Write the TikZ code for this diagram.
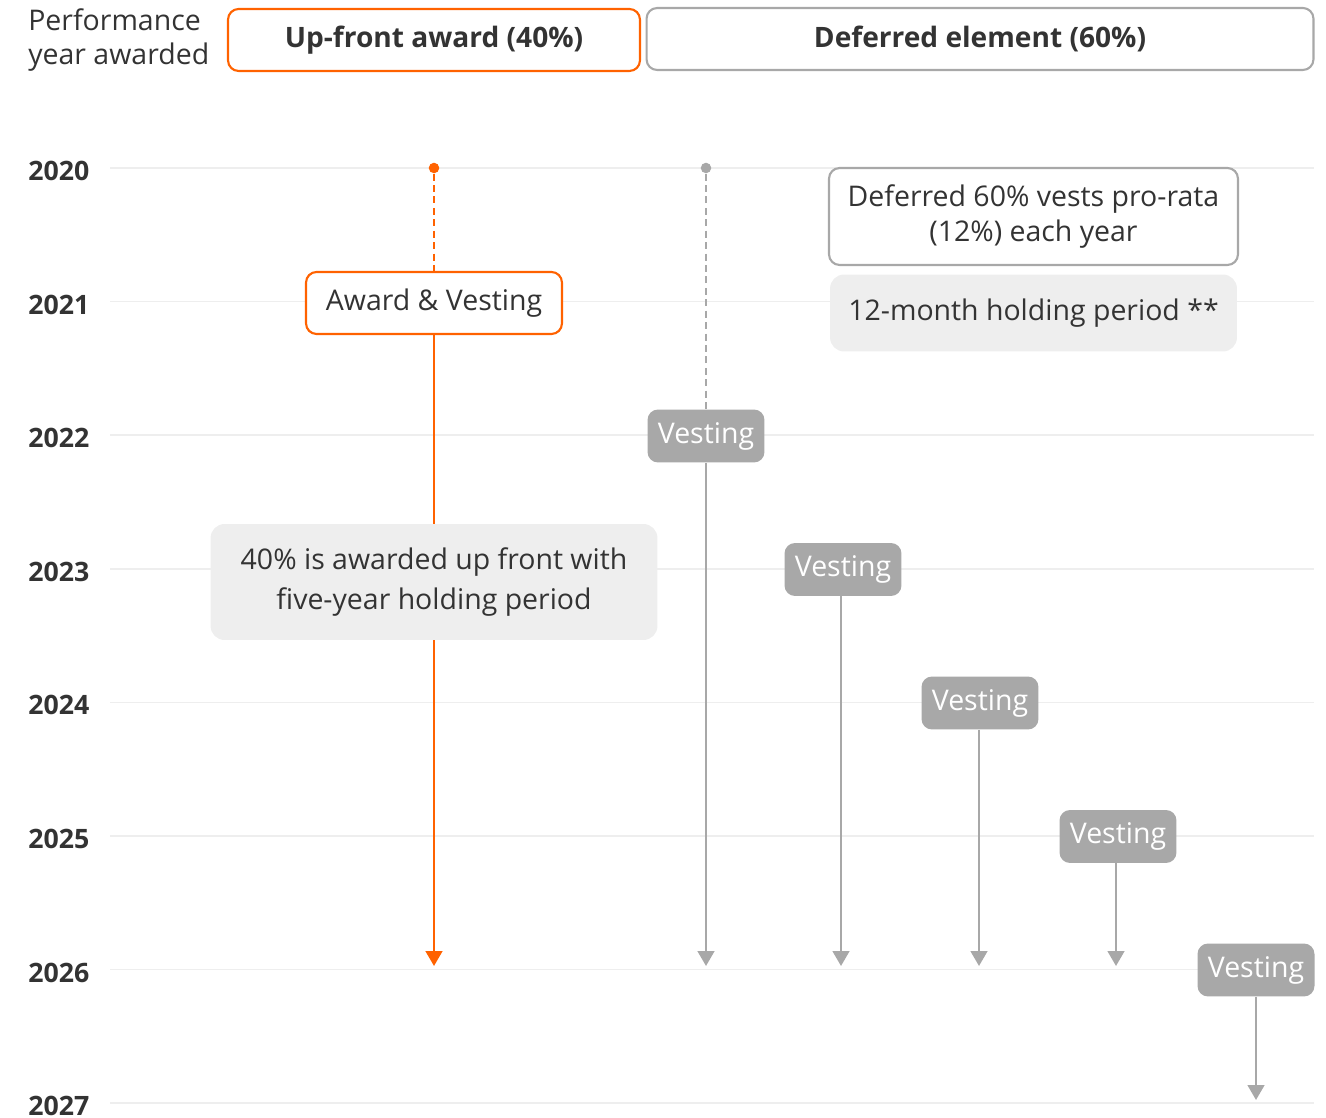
\documentclass[tikz,border=0pt]{standalone}
\usepackage{fontspec}
\setmainfont{Open Sans}
\usetikzlibrary{positioning,arrows.meta}
\definecolor{ingorange}{HTML}{FF6200}
\definecolor{ink}{HTML}{333333}
\definecolor{rule}{HTML}{EEEEEE}
\definecolor{mid}{HTML}{A8A8A8}
\definecolor{pale}{HTML}{EEEEEE}

\begin{document}
\begin{tikzpicture}[x=0.02cm,y=-0.02cm,every node/.style={font=\fontsize{16.2}{19.5}\selectfont,text=ink},
  hdr/.style={draw,line width=1.2pt,rounded corners=6pt,minimum height=1.24cm,font=\fontsize{16}{19}\selectfont\bfseries},
  yr/.style={anchor=west,inner sep=0pt,font=\fontsize{15.2}{17}\selectfont\bfseries},
  vest/.style={fill=mid,rounded corners=6pt,minimum width=2.34cm,minimum height=1.06cm,inner sep=0pt,text=white},
  note/.style={fill=pale,rounded corners=8pt,align=center,inner sep=0pt},
  dot/.style={circle,fill,inner sep=0pt,minimum size=6pt},
  lead/.style={line width=1.3pt,dash pattern=on 4pt off 2.5pt},
  a/.style={-{Triangle[width=9.5pt,length=8.5pt]},line width=1.3pt}]
  \useasboundingbox (0,0) rectangle (1326,1118);
  % year rows
  \foreach \y/\n in {2020/0,2021/1,2022/2,2023/3,2024/4,2025/5,2026/6,2027/7}{
    \draw[rule,line width=1pt] (110,168+133.6*\n) -- (1314,168+133.6*\n);
    \node[yr] (y\y) at (28,171+133.6*\n) {\y};
  }
  % headers
  \node[anchor=west,align=left,inner sep=0pt] (perf) at (28,40) {Performance\\year awarded};
  \node[hdr,draw=ingorange,minimum width=8.24cm] (up) at (434,40) {Up-front award (40\%)};
  \node[hdr,draw=mid,minimum width=13.34cm] (def) at (980,39) {Deferred element (60\%)};
  % up-front award
  \node[dot,ingorange] (d1) at (434,168) {};
  \node[draw=ingorange,line width=1.2pt,fill=white,rounded corners=6pt,minimum width=5.12cm,minimum height=1.24cm] (aw) at (434,303) {Award \& Vesting};
  \coordinate (e1) at (434,966);
  \draw[ingorange,lead] (d1) -- (aw);
  \draw[a,ingorange] (aw) -- (e1);
  \node[note,minimum width=8.94cm,minimum height=2.32cm,font=\fontsize{16.2}{22.5}\selectfont] (info) at (434,582) {40\% is awarded up front with\\five-year holding period};
  % deferred element
  \node[draw=mid,line width=1.2pt,fill=white,rounded corners=6pt,align=center,minimum width=8.18cm,minimum height=1.94cm,inner sep=0pt] (pro) at (1033.5,216.5) {Deferred 60\% vests pro-rata\\(12\%) each year};
  \node[note,minimum width=8.14cm,minimum height=1.54cm] (hold) at (1033.5,313) {12-month holding period **};
  \node[dot,mid] (d2) at (706,168) {};
  \node[vest] (v1) at (706,436) {Vesting};
  \node[vest] (v2) at (843,569.5) {Vesting};
  \node[vest] (v3) at (980,703) {Vesting};
  \node[vest] (v4) at (1118,836.5) {Vesting};
  \node[vest] (v5) at (1256,970) {Vesting};
  \coordinate (e2) at (706,966);
  \coordinate (e3) at (841,966);
  \coordinate (e4) at (979,966);
  \coordinate (e5) at (1116,966);
  \coordinate (e6) at (1256,1100);
  \draw[mid,lead] (d2) -- (v1);
  \draw[a,mid] (v1) -- (e2);
  \draw[a,mid] (v2.south -| e3) -- (e3);
  \draw[a,mid] (v3.south -| e4) -- (e4);
  \draw[a,mid] (v4.south -| e5) -- (e5);
  \draw[a,mid] (v5) -- (e6);
\end{tikzpicture}
\end{document}
